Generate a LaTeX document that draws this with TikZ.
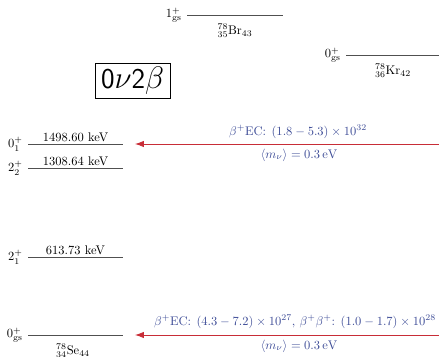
\documentclass[tikz,border=0pt]{standalone}
\usetikzlibrary{arrows.meta}
\definecolor{lvl}{RGB}{80,80,80}
\definecolor{arr}{RGB}{200,45,55}
\definecolor{txt}{RGB}{60,75,150}
\begin{document}
\begin{tikzpicture}[x=0.8pt,y=-0.8pt,
  level/.style={draw=lvl,line width=0.7pt},
  spin/.style={anchor=east,inner sep=0pt,xshift=-4pt,font=\normalsize},
  energy/.style={anchor=south,inner sep=1.5pt},
  nuc/.style={anchor=center,inner sep=0pt},
  decay/.style={draw=arr,line width=0.6pt,-{Latex[length=7pt,width=5pt]}},
  dlabel/.style={text=txt,inner sep=0pt,anchor=center}]
\useasboundingbox (0,0) rectangle (439,357);
% Br
\coordinate (brL) at (187,15); \coordinate (brR) at (283,15);
\draw[level] (brL) -- (brR);
\node[spin] (brS) at (brL) {$1^+_{\rm gs}$};
\node[nuc] (brN) at (235,31) {${}^{78}_{35}\mathrm{Br}_{43}$};
% Kr
\coordinate (krL) at (346,55); \coordinate (krR) at (439,55);
\draw[level] (krL) -- (krR);
\node[spin] (krS) at (krL) {$0^+_{\rm gs}$};
\node[nuc] (krN) at (393,71) {${}^{78}_{36}\mathrm{Kr}_{42}$};
% box
\node[draw,line width=0.6pt,minimum width=60pt,minimum height=28.5pt,inner sep=2pt,font=\fontsize{23}{28}\selectfont] (box) at (132.5,81) {\textsf{0}$\nu$\textsf{2}$\beta$};
% Se levels
\coordinate (aL) at (28,144); \coordinate (aR) at (123,144);
\draw[level] (aL) -- (aR);
\node[spin] (aS) at (aL) {$0^+_1$};
\node[energy] (aE) at (75.5,144) {1498.60 keV};
\coordinate (bL) at (28,168); \coordinate (bR) at (123,168);
\draw[level] (bL) -- (bR);
\node[spin] (bS) at (bL) {$2^+_2$};
\node[energy] (bE) at (75.5,168) {1308.64 keV};
\coordinate (cL) at (28,257); \coordinate (cR) at (123,257);
\draw[level] (cL) -- (cR);
\node[spin] (cS) at (cL) {$2^+_1$};
\node[energy] (cE) at (75.5,257) {613.73 keV};
\coordinate (dL) at (28,335); \coordinate (dR) at (123,335);
\draw[level] (dL) -- (dR);
\node[spin] (dS) at (dL) {$0^+_{\rm gs}$};
\node[nuc] (seN) at (73,351) {${}^{78}_{34}\mathrm{Se}_{44}$};
% arrows
\coordinate (a1s) at (439,144); \coordinate (a1e) at (135,144);
\draw[decay] (a1s) -- (a1e);
\node[dlabel] (t1) at (298,132) {$\beta^+\mathrm{EC}$: $(1.8-5.3)\times10^{32}$};
\node[dlabel] (m1) at (299,155) {$\langle m_\nu\rangle=0.3\,\mathrm{eV}$};
\coordinate (a2s) at (439,335); \coordinate (a2e) at (135,335);
\draw[decay] (a2s) -- (a2e);
\node[dlabel] (t2) at (295,322) {$\beta^+\mathrm{EC}$: $(4.3-7.2)\times10^{27}$, $\beta^+\beta^+$: $(1.0-1.7)\times10^{28}$};
\node[dlabel] (m2) at (299,346) {$\langle m_\nu\rangle=0.3\,\mathrm{eV}$};
\end{tikzpicture}
\end{document}
